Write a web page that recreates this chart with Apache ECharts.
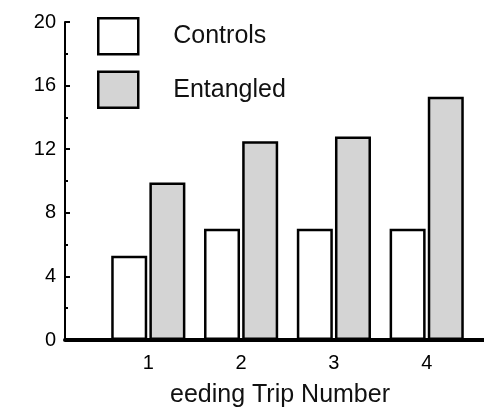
<!DOCTYPE html>
<html>
<head>
<meta charset="utf-8">
<script src="https://cdn.jsdelivr.net/npm/echarts@6/dist/echarts.min.js"></script>
<style>
  html, body { margin: 0; padding: 0; background: #fff; }
  #chart { width: 484px; height: 413px; }
</style>
</head>
<body>
<div id="chart"></div>
<script>
// Feeding trips and mean values per group
const trips = ['1', '2', '3', '4'];
const controls = [5.3, 7.0, 7.0, 7.0];
const entangled = [9.9, 12.5, 12.8, 15.3];
const yTicks = { min: 0, max: 20, interval: 4 };
const xTitle = 'eeding Trip Number';

const FONT = '"Liberation Sans", Arial, Helvetica, sans-serif';
const chart = echarts.init(document.getElementById('chart'), null, { renderer: 'canvas' });

const barStyle = (fill) => ({
  color: fill,
  borderColor: '#000',
  borderWidth: 2.5
});

chart.setOption({
  animation: false,
  backgroundColor: '#fff',
  textStyle: { fontFamily: FONT },
  grid: [
    // bars
    { left: 101.9, right: 10.9, top: 22, bottom: 73, containLabel: false },
    // frame: y axis and thick baseline
    { left: 65, right: 0, top: 22, bottom: 73, containLabel: false }
  ],
  xAxis: [
    {
      gridIndex: 0,
      type: 'category',
      data: trips,
      boundaryGap: true,
      axisLine: { show: false },
      axisTick: { show: false },
      axisLabel: { color: '#000', fontSize: 20, margin: 13, fontFamily: FONT },
      splitLine: { show: false }
    },
    {
      gridIndex: 1,
      type: 'value',
      min: 0,
      max: 1,
      axisLine: { show: true, lineStyle: { color: '#000', width: 4 } },
      axisTick: { show: false },
      axisLabel: { show: false },
      splitLine: { show: false }
    }
  ],
  yAxis: [
    {
      gridIndex: 0,
      type: 'value',
      min: yTicks.min,
      max: yTicks.max,
      interval: yTicks.interval,
      show: false
    },
    {
      gridIndex: 1,
      type: 'value',
      min: yTicks.min,
      max: yTicks.max,
      interval: yTicks.interval,
      axisLine: { show: true, lineStyle: { color: '#000', width: 2 } },
      axisTick: { show: true, inside: true, length: 5, lineStyle: { color: '#000', width: 2 } },
      minorTick: { show: true, splitNumber: 2, length: 3, lineStyle: { color: '#000', width: 2 } },
      axisLabel: { color: '#000', fontSize: 20, margin: 9, fontFamily: FONT },
      splitLine: { show: false }
    }
  ],
  legend: {
    orient: 'vertical',
    left: 97,
    top: 17,
    padding: 0,
    itemWidth: 40,
    itemHeight: 36,
    itemGap: 15,
    icon: 'rect',
    itemStyle: { borderColor: '#000', borderWidth: 2.5 },
    textStyle: { color: '#111', fontSize: 25, fontFamily: FONT, padding: [0, 0, 0, 30] },
    data: ['Controls', 'Entangled']
  },
  series: [
    {
      name: 'Controls',
      type: 'bar',
      xAxisIndex: 0,
      yAxisIndex: 0,
      data: controls,
      barWidth: 36,
      barGap: '6%',
      itemStyle: barStyle('#ffffff')
    },
    {
      name: 'Entangled',
      type: 'bar',
      xAxisIndex: 0,
      yAxisIndex: 0,
      data: entangled,
      barWidth: 36,
      barGap: '6%',
      itemStyle: barStyle('#d4d4d4')
    }
  ],
  graphic: [
    {
      type: 'text',
      x: 280,
      y: 395,
      style: {
        text: xTitle,
        fill: '#111',
        font: '25px ' + FONT,
        textAlign: 'center',
        textVerticalAlign: 'middle'
      }
    }
  ]
});
</script>
</body>
</html>
